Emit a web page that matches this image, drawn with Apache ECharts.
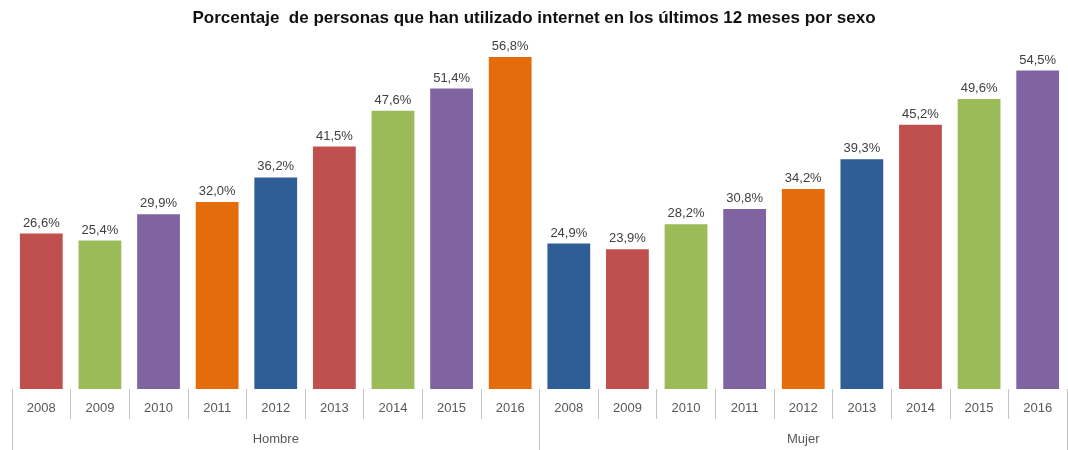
<!DOCTYPE html>
<html>
<head>
<meta charset="utf-8">
<script src="https://cdn.jsdelivr.net/npm/echarts@6/dist/echarts.min.js"></script>
<style>
  html, body { margin: 0; padding: 0; background: #ffffff; }
  #chart { width: 1068px; height: 450px; }
</style>
</head>
<body>
<div id="chart"></div>
<script>
// Internet use in the last 12 months, by sex (%)
const years = ['2008', '2009', '2010', '2011', '2012', '2013', '2014', '2015', '2016'];
const groups = ['Hombre', 'Mujer'];
const hombre = [26.6, 25.4, 29.9, 32.0, 36.2, 41.5, 47.6, 51.4, 56.8];
const mujer = [24.9, 23.9, 28.2, 30.8, 34.2, 39.3, 45.2, 49.6, 54.5];
const palette = ['#C0504D', '#9BBB59', '#8064A2', '#E46C0A', '#2F5E96'];

const categories = years.concat(years);
const values = hombre.concat(mujer);

const chart = echarts.init(document.getElementById('chart'), null, { renderer: 'canvas' });
chart.setOption({
  animation: false,
  title: {
    text: 'Porcentaje  de personas que han utilizado internet en los últimos 12 meses por sexo',
    left: 'center',
    top: 5,
    textStyle: { fontFamily: 'Liberation Sans', fontSize: 17, fontWeight: 'bold', color: '#111111' }
  },
  grid: { left: 12, right: 1, top: 38.3, bottom: 61 },
  xAxis: [
    {
      type: 'category',
      data: categories,
      position: 'bottom',
      axisLine: { show: false },
      axisTick: { show: true, length: 30, lineStyle: { color: '#c4c4c4', width: 1 } },
      axisLabel: { interval: 0, margin: 13, color: '#595959', fontFamily: 'Liberation Sans', fontSize: 13 }
    },
    {
      type: 'category',
      data: groups,
      position: 'bottom',
      axisLine: { show: false },
      axisTick: { show: true, length: 62, lineStyle: { color: '#c4c4c4', width: 1 } },
      axisLabel: { interval: 0, margin: 44, color: '#595959', fontFamily: 'Liberation Sans', fontSize: 13 }
    }
  ],
  yAxis: { type: 'value', min: 0, max: 60, show: false, splitLine: { show: false } },
  series: [{
    type: 'bar',
    xAxisIndex: 0,
    barCategoryGap: '27%',
    data: values.map((v, i) => ({ value: v, itemStyle: { color: palette[i % palette.length] } })),
    label: {
      show: true,
      position: 'top',
      distance: 4,
      color: '#404040',
      fontFamily: 'Liberation Sans',
      fontSize: 13,
      formatter: p => p.value.toFixed(1).replace('.', ',') + '%'
    }
  }]
});
</script>
</body>
</html>
